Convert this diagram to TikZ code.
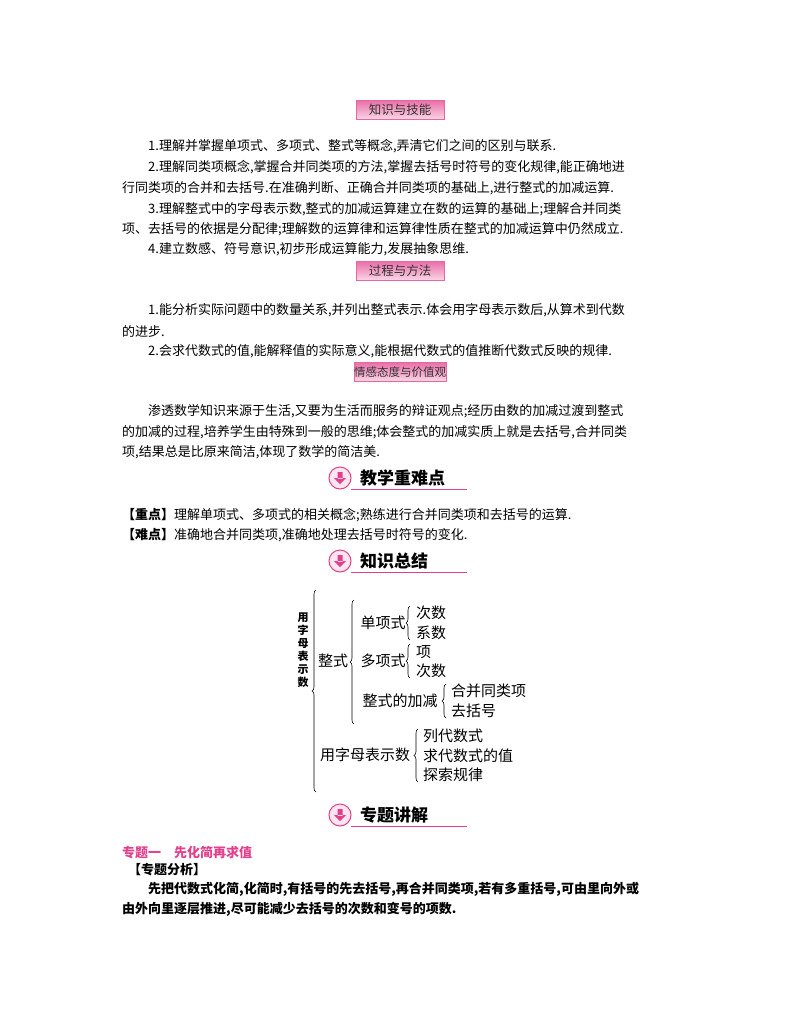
\documentclass[tikz,border=0pt]{standalone}
\usepackage{fontspec}
\setmainfont{Noto Sans CJK SC}
\usetikzlibrary{decorations.pathreplacing}
\definecolor{pk}{RGB}{226,64,140}
\definecolor{pkl}{RGB}{246,190,215}
\begin{document}
\begin{tikzpicture}[x=1pt,y=-1pt,
  ln/.style={anchor=west,inner sep=0pt,font=\fontsize{13}{13}\selectfont},
  lab/.style={draw=pk!80,top color=pk!75,bottom color=pkl!60,minimum width=88pt,minimum height=19pt,inner sep=0pt,font=\fontsize{12.5}{12.5}\selectfont,text=black!80},
  hd/.style={anchor=west,inner sep=0pt,font=\fontsize{17}{17}\selectfont\bfseries},
  tr/.style={inner sep=0pt,font=\fontsize{15}{15}\selectfont},
  br/.style={decorate,decoration={brace,amplitude=4pt},line width=0.6pt}]
\useasboundingbox (0,0) rectangle (800,1028);
\newcommand\hdr[3]{%
  \draw[pk,line width=1pt,fill=pkl!40] (340,#1) circle (11);
  \fill[pk] (337.5,#1-6) rectangle (342.5,#1+1) (334,#1) -- (346,#1) -- (340,#1+6) -- cycle;
  \draw[pk,line width=1pt] (351,#1+11) -- (467,#1+11);
  \node[hd] (#3) at (360,#1) {#2};}
\node[lab] (l1) at (400,110) {知识与技能};
\node[ln] (a1) at (148,146) {1.理解并掌握单项式、多项式、整式等概念,弄清它们之间的区别与联系.};
\node[ln] (a2) at (148,167) {2.理解同类项概念,掌握合并同类项的方法,掌握去括号时符号的变化规律,能正确地进};
\node[ln] (a3) at (122,188) {行同类项的合并和去括号.在准确判断、正确合并同类项的基础上,进行整式的加减运算.};
\node[ln] (a4) at (148,209) {3.理解整式中的字母表示数,整式的加减运算建立在数的运算的基础上;理解合并同类};
\node[ln] (a5) at (122,229) {项、去括号的依据是分配律;理解数的运算律和运算律性质在整式的加减运算中仍然成立.};
\node[ln] (a6) at (148,249) {4.建立数感、符号意识,初步形成运算能力,发展抽象思维.};
\node[lab] (l2) at (400,271) {过程与方法};
\node[ln] (b1) at (148,310) {1.能分析实际问题中的数量关系,并列出整式表示.体会用字母表示数后,从算术到代数};
\node[ln] (b2) at (122,331) {的进步.};
\node[ln] (b3) at (148,351) {2.会求代数式的值,能解释值的实际意义,能根据代数式的值推断代数式反映的规律.};
\node[lab,font=\fontsize{11.5}{11.5}\selectfont] (l3) at (400,372) {情感态度与价值观};
\node[ln] (c1) at (148,411) {渗透数学知识来源于生活,又要为生活而服务的辩证观点;经历由数的加减过渡到整式};
\node[ln] (c2) at (122,432) {的加减的过程,培养学生由特殊到一般的思维;体会整式的加减实质上就是去括号,合并同类};
\node[ln] (c3) at (122,452) {项,结果总是比原来简洁,体现了数学的简洁美.};
\hdr{478}{教学重难点}{h1}
\node[ln] (d1) at (122,515) {\textbf{【重点】}理解单项式、多项式的相关概念;熟练进行合并同类项和去括号的运算.};
\node[ln] (d2) at (122,535) {\textbf{【难点】}准确地合并同类项,准确地处理去括号时符号的变化.};
\hdr{561}{知识总结}{h2}
\node[inner sep=0pt,align=center,font=\fontsize{11}{13}\selectfont\bfseries] (v) at (303,650) {用\\字\\母\\表\\示\\数};
\draw[br] (316,792) -- (316,590);
\node[tr] (zs) at (333,661) {整式};
\draw[br] (354,724) -- (354,600);
\node[tr] (dx) at (383,623) {单项式};
\draw[br] (410,640) -- (410,606);
\node[tr,anchor=west] (dx1) at (416,613) {次数};
\node[tr,anchor=west] (dx2) at (416,633) {系数};
\node[tr] (ddx) at (383,661) {多项式};
\draw[br] (410,678) -- (410,644);
\node[tr,anchor=west] (ddx1) at (416,652) {项};
\node[tr,anchor=west] (ddx2) at (416,671) {次数};
\node[tr] (jj) at (400,701) {整式的加减};
\draw[br] (446,718) -- (446,684);
\node[tr,anchor=west] (jj1) at (451,691) {合并同类项};
\node[tr,anchor=west] (jj2) at (451,711) {去括号};
\node[tr] (yz) at (365,755) {用字母表示数};
\draw[br] (418,782) -- (418,729);
\node[tr,anchor=west] (yz1) at (423,736) {列代数式};
\node[tr,anchor=west] (yz2) at (423,756) {求代数式的值};
\node[tr,anchor=west] (yz3) at (423,775) {探索规律};
\hdr{815}{专题讲解}{h3}
\node[ln,text=pk,font=\fontsize{13}{13}\selectfont\bfseries] (e0) at (122,853) {专题一\quad 先化简再求值};
\node[ln,font=\fontsize{13}{13}\selectfont\bfseries] (e1) at (128,870) {【专题分析】};
\node[ln,font=\fontsize{13}{13}\selectfont\bfseries] (e2) at (148,889) {先把代数式化简,化简时,有括号的先去括号,再合并同类项,若有多重括号,可由里向外或};
\node[ln,font=\fontsize{13}{13}\selectfont\bfseries] (e3) at (122,909) {由外向里逐层推进,尽可能减少去括号的次数和变号的项数.};
\end{tikzpicture}
\end{document}
